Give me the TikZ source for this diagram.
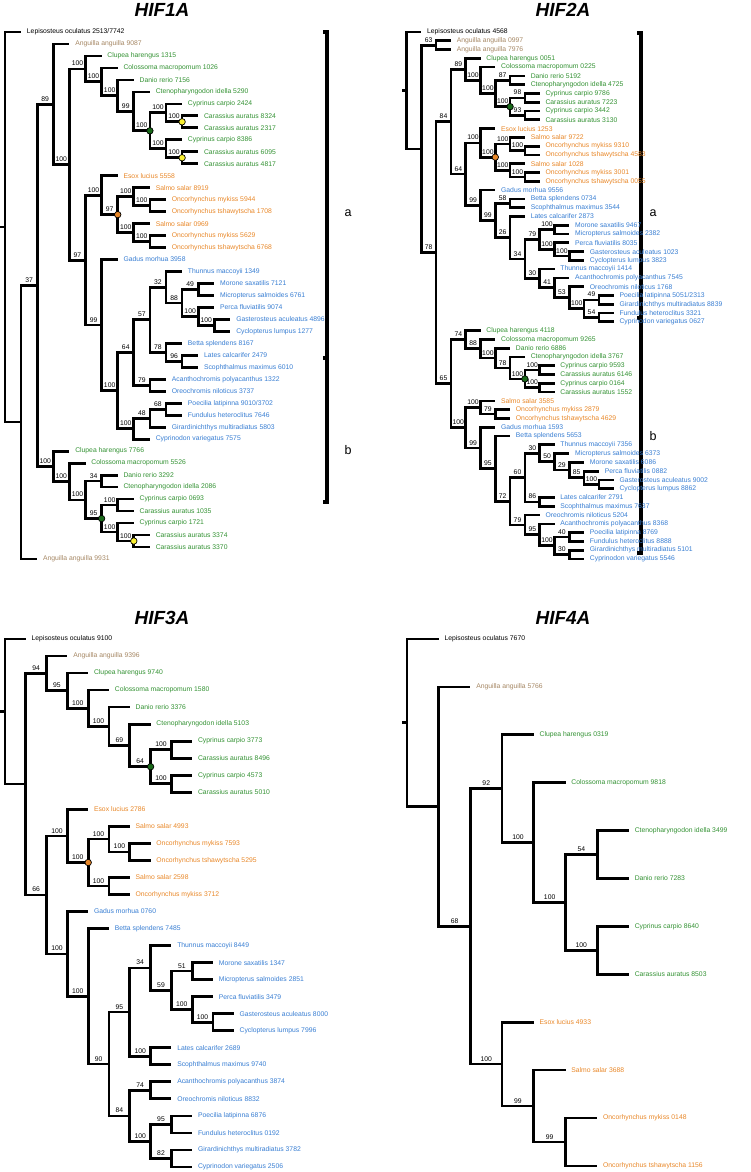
\documentclass[tikz,border=0pt]{standalone}
\usepackage{fontspec}
\setmainfont{Liberation Sans}
\definecolor{cypgreen}{RGB}{50,145,50}
\definecolor{salorange}{RGB}{232,135,40}
\definecolor{acnblue}{RGB}{55,125,210}
\definecolor{eeltan}{RGB}{165,135,100}
\definecolor{dotgreen}{RGB}{25,105,25}
\definecolor{dotyellow}{RGB}{250,240,50}
\begin{document}
\begin{tikzpicture}[
    x=1pt, y=1pt,
    line width=2.7pt,
    leaf/.style = {anchor=west, inner xsep=4.5pt, inner ysep=0pt, font=\fontsize{6.8}{8}\selectfont},
    gar/.style = {text=black},
    eel/.style = {text=eeltan},
    cyp/.style = {text=cypgreen},
    sal/.style = {text=salorange},
    acn/.style = {text=acnblue},
    bs/.style = {pos=0.75, above=1pt, inner sep=0.5pt, font=\fontsize{6.8}{8}\selectfont},
    dot/.style = {circle, draw=black, line width=0.7pt, inner sep=0pt, minimum size=6.5pt},
    gdot/.style = {dot, fill=dotgreen},
    odot/.style = {dot, fill=salorange},
    ydot/.style = {dot, fill=dotyellow},
    ttl/.style = {font=\fontsize{19}{22}\selectfont\bfseries\itshape},
    grp/.style = {font=\fontsize{12.5}{14}\selectfont},
    brk/.style = {line width=3.2pt}
  ]
\useasboundingbox (0,0) rectangle (751,-1172);

% titles
\node[ttl] (t1) at (162,-10) {HIF1A};
\node[ttl] (t2) at (563,-10) {HIF2A};
\node[ttl] (t3) at (162,-618) {HIF3A};
\node[ttl] (t4) at (563,-618) {HIF4A};

% group brackets
\draw[brk] (323,-32) -- (327,-32) -- (327,-502) -- (323,-502);
\draw[brk] (327,-358) -- (323,-358);
\node[grp] (ga1) at (348,-213) {a};
\node[grp] (gb1) at (348,-450) {b};
\draw[brk] (637,-33) -- (641,-33) -- (641,-553) -- (637,-553);
\draw[brk] (641,-318) -- (637,-318);
\node[grp] (ga2) at (653,-213) {a};
\node[grp] (gb2) at (653,-436) {b};

% ---------------- HIF1A ----------------
\begin{scope}[shift={(5pt,-32pt)}, x=16.1pt, y=-11.977pt]
\coordinate (aR) at (0,16.287);
\coordinate (aA) at (1,32.574);
\coordinate (aB) at (2,21.149);
\coordinate (aC) at (3,6.032);
\coordinate (aD) at (3,36.266);
\coordinate (aE) at (4,11.064);
\coordinate (aF) at (5,3.078);
\coordinate (aG) at (5,19.049);
\coordinate (aF2) at (6,4.156);
\coordinate (aF3) at (7,5.313);
\coordinate (aF4) at (8,6.625);
\coordinate (aF5) at (9,8.25);
\coordinate (aF6) at (10,6.75);
\coordinate (aF7) at (10,9.75);
\coordinate (aF6a) at (11,7.5);
\coordinate (aF7a) at (11,10.5);
\coordinate (aH) at (6,13.625);
\coordinate (aI) at (6,24.473);
\coordinate (aH2) at (7,15.25);
\coordinate (aH3) at (8,13.75);
\coordinate (aH4) at (8,16.75);
\coordinate (aH3a) at (9,14.5);
\coordinate (aH4a) at (9,17.5);
\coordinate (aJ) at (7,29.945);
\coordinate (aK) at (8,26.766);
\coordinate (aL) at (8,33.125);
\coordinate (aK1) at (9,24.031);
\coordinate (aK2) at (9,29.5);
\coordinate (aK1a) at (10,21.313);
\coordinate (aK1b) at (10,26.75);
\coordinate (aK1a2) at (11,22.625);
\coordinate (aK1a3) at (12,21.5);
\coordinate (aK1a4) at (12,23.75);
\coordinate (aK1a5) at (13,24.5);
\coordinate (aK1b2) at (11,27.5);
\coordinate (aL1) at (9,32.25);
\coordinate (aL1a) at (10,31.5);
\coordinate (aD2) at (4,37.531);
\coordinate (aD3) at (5,39.063);
\coordinate (aD4) at (6,37.5);
\coordinate (aD5) at (6,40.625);
\coordinate (aD6) at (7,39.5);
\coordinate (aD7) at (7,41.75);
\coordinate (aD8) at (8,42.5);

\node[leaf,gar] (a0) at (1,0) {Lepisosteus oculatus 2513/7742};
\node[leaf,eel] (a1) at (4,1) {Anguilla anguilla 9087};
\node[leaf,cyp] (a2) at (6,2) {Clupea harengus 1315};
\node[leaf,cyp] (a3) at (7,3) {Colossoma macropomum 1026};
\node[leaf,cyp] (a4) at (8,4) {Danio rerio 7156};
\node[leaf,cyp] (a5) at (9,5) {Ctenopharyngodon idella 5290};
\node[leaf,cyp] (a6) at (11,6) {Cyprinus carpio 2424};
\node[leaf,cyp] (a7) at (12,7) {Carassius auratus 8324};
\node[leaf,cyp] (a8) at (12,8) {Carassius auratus 2317};
\node[leaf,cyp] (a9) at (11,9) {Cyprinus carpio 8386};
\node[leaf,cyp] (a10) at (12,10) {Carassius auratus 6095};
\node[leaf,cyp] (a11) at (12,11) {Carassius auratus 4817};
\node[leaf,sal] (a12) at (7,12) {Esox lucius 5558};
\node[leaf,sal] (a13) at (9,13) {Salmo salar 8919};
\node[leaf,sal] (a14) at (10,14) {Oncorhynchus mykiss 5944};
\node[leaf,sal] (a15) at (10,15) {Oncorhynchus tshawytscha 1708};
\node[leaf,sal] (a16) at (9,16) {Salmo salar 0969};
\node[leaf,sal] (a17) at (10,17) {Oncorhynchus mykiss 5629};
\node[leaf,sal] (a18) at (10,18) {Oncorhynchus tshawytscha 6768};
\node[leaf,acn] (a19) at (7,19) {Gadus morhua 3958};
\node[leaf,acn] (a20) at (11,20) {Thunnus maccoyii 1349};
\node[leaf,acn] (a21) at (13,21) {Morone saxatilis 7121};
\node[leaf,acn] (a22) at (13,22) {Micropterus salmoides 6761};
\node[leaf,acn] (a23) at (13,23) {Perca fluviatilis 9074};
\node[leaf,acn] (a24) at (14,24) {Gasterosteus aculeatus 4896};
\node[leaf,acn] (a25) at (14,25) {Cyclopterus lumpus 1277};
\node[leaf,acn] (a26) at (11,26) {Betta splendens 8167};
\node[leaf,acn] (a27) at (12,27) {Lates calcarifer 2479};
\node[leaf,acn] (a28) at (12,28) {Scophthalmus maximus 6010};
\node[leaf,acn] (a29) at (10,29) {Acanthochromis polyacanthus 1322};
\node[leaf,acn] (a30) at (10,30) {Oreochromis niloticus 3737};
\node[leaf,acn] (a31) at (11,31) {Poecilia latipinna 9010/3702};
\node[leaf,acn] (a32) at (11,32) {Fundulus heteroclitus 7646};
\node[leaf,acn] (a33) at (10,33) {Girardinichthys multiradiatus 5803};
\node[leaf,acn] (a34) at (9,34) {Cyprinodon variegatus 7575};
\node[leaf,cyp] (a35) at (4,35) {Clupea harengus 7766};
\node[leaf,cyp] (a36) at (5,36) {Colossoma macropomum 5526};
\node[leaf,cyp] (a37) at (7,37) {Danio rerio 3292};
\node[leaf,cyp] (a38) at (7,38) {Ctenopharyngodon idella 2086};
\node[leaf,cyp] (a39) at (8,39) {Cyprinus carpio 0693};
\node[leaf,cyp] (a40) at (8,40) {Carassius auratus 1035};
\node[leaf,cyp] (a41) at (8,41) {Cyprinus carpio 1721};
\node[leaf,cyp] (a42) at (9,42) {Carassius auratus 3374};
\node[leaf,cyp] (a43) at (9,43) {Carassius auratus 3370};
\node[leaf,eel] (a44) at (2,44) {Anguilla anguilla 9931};

\draw (aR) -- +(-5pt,0pt);
\draw (aR) |- (a0) (aR) |- (aA);
\draw (aA) |- (aB) node[bs]{37} (aA) |- (a44);
\draw (aB) |- (aC) node[bs]{89} (aB) |- (aD) node[bs]{100};
\draw (aC) |- (a1) (aC) |- (aE) node[bs]{100};
\draw (aE) |- (aF) node[bs]{100} (aE) |- (aG) node[bs]{97};
\draw (aF) |- (a2) (aF) |- (aF2) node[bs]{100};
\draw (aF2) |- (a3) (aF2) |- (aF3) node[bs]{100};
\draw (aF3) |- (a4) (aF3) |- (aF4) node[bs]{99};
\draw (aF4) |- (a5) (aF4) |- (aF5) node[bs]{100};
\draw (aF5) |- (aF6) node[bs]{100} (aF5) |- (aF7) node[bs]{100};
\draw (aF6) |- (a6) (aF6) |- (aF6a) node[bs]{100};
\draw (aF6a) |- (a7) (aF6a) |- (a8);
\draw (aF7) |- (a9) (aF7) |- (aF7a) node[bs]{100};
\draw (aF7a) |- (a10) (aF7a) |- (a11);
\draw (aG) |- (aH) node[bs]{100} (aG) |- (aI) node[bs]{99};
\draw (aH) |- (a12) (aH) |- (aH2) node[bs]{97};
\draw (aH2) |- (aH3) node[bs]{100} (aH2) |- (aH4) node[bs]{100};
\draw (aH3) |- (a13) (aH3) |- (aH3a) node[bs]{100};
\draw (aH3a) |- (a14) (aH3a) |- (a15);
\draw (aH4) |- (a16) (aH4) |- (aH4a) node[bs]{100};
\draw (aH4a) |- (a17) (aH4a) |- (a18);
\draw (aI) |- (a19) (aI) |- (aJ) node[bs]{100};
\draw (aJ) |- (aK) node[bs]{64} (aJ) |- (aL) node[bs]{100};
\draw (aK) |- (aK1) node[bs]{57} (aK) |- (aK2) node[bs]{79};
\draw (aK1) |- (aK1a) node[bs]{32} (aK1) |- (aK1b) node[bs]{78};
\draw (aK1a) |- (a20) (aK1a) |- (aK1a2) node[bs]{88};
\draw (aK1a2) |- (aK1a3) node[bs]{49} (aK1a2) |- (aK1a4) node[bs]{100};
\draw (aK1a3) |- (a21) (aK1a3) |- (a22);
\draw (aK1a4) |- (a23) (aK1a4) |- (aK1a5) node[bs]{100};
\draw (aK1a5) |- (a24) (aK1a5) |- (a25);
\draw (aK1b) |- (a26) (aK1b) |- (aK1b2) node[bs]{96};
\draw (aK1b2) |- (a27) (aK1b2) |- (a28);
\draw (aK2) |- (a29) (aK2) |- (a30);
\draw (aL) |- (aL1) node[bs]{48} (aL) |- (a34);
\draw (aL1) |- (aL1a) node[bs]{68} (aL1) |- (a33);
\draw (aL1a) |- (a31) (aL1a) |- (a32);
\draw (aD) |- (a35) (aD) |- (aD2) node[bs]{100};
\draw (aD2) |- (a36) (aD2) |- (aD3) node[bs]{100};
\draw (aD3) |- (aD4) node[bs]{34} (aD3) |- (aD5) node[bs]{95};
\draw (aD4) |- (a37) (aD4) |- (a38);
\draw (aD5) |- (aD6) node[bs]{100} (aD5) |- (aD7) node[bs]{100};
\draw (aD6) |- (a39) (aD6) |- (a40);
\draw (aD7) |- (a41) (aD7) |- (aD8) node[bs]{100};
\draw (aD8) |- (a42) (aD8) |- (a43);

\node[gdot] (aF5d) at (aF5) {};
\node[gdot] (aD5d) at (aD5) {};
\node[odot] (aH2d) at (aH2) {};
\node[ydot] (aF6d) at (aF6a) {};
\node[ydot] (aF7d) at (aF7a) {};
\node[ydot] (aD8d) at (aD8) {};
\end{scope}

% ---------------- HIF2A ----------------
\begin{scope}[shift={(406.5pt,-32pt)}, x=14.8pt, y=-8.783pt]
\coordinate (bR) at (0,6.657);
\coordinate (bA) at (1,13.314);
\coordinate (bAng) at (2,1.5);
\coordinate (bB) at (2,25.128);
\coordinate (bC) at (3,10.214);
\coordinate (bD) at (3,40.042);
\coordinate (bE) at (4,4.25);
\coordinate (bE2) at (5,5.5);
\coordinate (bE3) at (6,7);
\coordinate (bE4) at (7,5.5);
\coordinate (bG1) at (7,8.5);
\coordinate (bE5) at (8,7.5);
\coordinate (bE6) at (8,9.5);
\coordinate (bN) at (4,16.178);
\coordinate (bF) at (5,12.625);
\coordinate (bO) at (6,14.25);
\coordinate (bOa) at (7,12.75);
\coordinate (bOa2) at (8,13.5);
\coordinate (bOb) at (7,15.75);
\coordinate (bOb2) at (8,16.5);
\coordinate (bH) at (5,19.730);
\coordinate (bH2) at (6,21.461);
\coordinate (bH3) at (7,19.5);
\coordinate (bH4) at (7,23.422);
\coordinate (bH5) at (8,25.844);
\coordinate (bH6) at (9,23.625);
\coordinate (bM) at (10,22.5);
\coordinate (bP) at (10,24.75);
\coordinate (bPa) at (11,25.5);
\coordinate (bH7) at (9,28.063);
\coordinate (bH8) at (10,29.125);
\coordinate (bH9) at (11,30.25);
\coordinate (bQ) at (12,31.5);
\coordinate (bQ1) at (13,30.5);
\coordinate (bQ2) at (13,32.5);
\coordinate (bI) at (4,35.031);
\coordinate (bI2) at (5,36.063);
\coordinate (bI3) at (6,37.125);
\coordinate (bI4) at (7,38.25);
\coordinate (bG2) at (8,39.5);
\coordinate (bC1) at (9,38.5);
\coordinate (bC2) at (9,40.5);
\coordinate (bJ) at (4,45.054);
\coordinate (bJ1) at (5,42.75);
\coordinate (bJ2) at (6,43.5);
\coordinate (bK) at (5,47.357);
\coordinate (bK2) at (6,49.715);
\coordinate (bK3) at (7,53.430);
\coordinate (bK4) at (8,50.734);
\coordinate (bK5) at (9,47.969);
\coordinate (bK6) at (10,48.938);
\coordinate (bK7) at (11,49.875);
\coordinate (bK8) at (12,50.75);
\coordinate (bK9) at (13,51.5);
\coordinate (bK10) at (9,53.5);
\coordinate (bL) at (8,56.125);
\coordinate (bL2) at (9,57.25);
\coordinate (bL3) at (10,58.5);
\coordinate (bL4) at (11,57.5);
\coordinate (bL5) at (11,59.5);

\node[leaf,gar] (b0) at (1,0) {Lepisosteus oculatus 4568};
\node[leaf,eel] (b1) at (3,1) {Anguilla anguilla 0997};
\node[leaf,eel] (b2) at (3,2) {Anguilla anguilla 7976};
\node[leaf,cyp] (b3) at (5,3) {Clupea harengus 0051};
\node[leaf,cyp] (b4) at (6,4) {Colossoma macropomum 0225};
\node[leaf,cyp] (b5) at (8,5) {Danio rerio 5192};
\node[leaf,cyp] (b6) at (8,6) {Ctenopharyngodon idella 4725};
\node[leaf,cyp] (b7) at (9,7) {Cyprinus carpio 9786};
\node[leaf,cyp] (b8) at (9,8) {Carassius auratus 7223};
\node[leaf,cyp] (b9) at (9,9) {Cyprinus carpio 3442};
\node[leaf,cyp] (b10) at (9,10) {Carassius auratus 3130};
\node[leaf,sal] (b11) at (6,11) {Esox lucius 1253};
\node[leaf,sal] (b12) at (8,12) {Salmo salar 9722};
\node[leaf,sal] (b13) at (9,13) {Oncorhynchus mykiss 9310};
\node[leaf,sal] (b14) at (9,14) {Oncorhynchus tshawytscha 4583};
\node[leaf,sal] (b15) at (8,15) {Salmo salar 1028};
\node[leaf,sal] (b16) at (9,16) {Oncorhynchus mykiss 3001};
\node[leaf,sal] (b17) at (9,17) {Oncorhynchus tshawytscha 0055};
\node[leaf,acn] (b18) at (6,18) {Gadus morhua 9556};
\node[leaf,acn] (b19) at (8,19) {Betta splendens 0734};
\node[leaf,acn] (b20) at (8,20) {Scophthalmus maximus 3544};
\node[leaf,acn] (b21) at (8,21) {Lates calcarifer 2873};
\node[leaf,acn] (b22) at (11,22) {Morone saxatilis 9467};
\node[leaf,acn] (b23) at (11,23) {Micropterus salmoides 2382};
\node[leaf,acn] (b24) at (11,24) {Perca fluviatilis 8035};
\node[leaf,acn] (b25) at (12,25) {Gasterosteus aculeatus 1023};
\node[leaf,acn] (b26) at (12,26) {Cyclopterus lumpus 3823};
\node[leaf,acn] (b27) at (10,27) {Thunnus maccoyii 1414};
\node[leaf,acn] (b28) at (11,28) {Acanthochromis polyacanthus 7545};
\node[leaf,acn] (b29) at (12,29) {Oreochromis niloticus 1768};
\node[leaf,acn] (b30) at (14,30) {Poecilia latipinna 5051/2313};
\node[leaf,acn] (b31) at (14,31) {Girardinichthys multiradiatus 8839};
\node[leaf,acn] (b32) at (14,32) {Fundulus heteroclitus 3321};
\node[leaf,acn] (b33) at (14,33) {Cyprinodon variegatus 0627};
\node[leaf,cyp] (b34) at (5,34) {Clupea harengus 4118};
\node[leaf,cyp] (b35) at (6,35) {Colossoma macropomum 9265};
\node[leaf,cyp] (b36) at (7,36) {Danio rerio 6886};
\node[leaf,cyp] (b37) at (8,37) {Ctenopharyngodon idella 3767};
\node[leaf,cyp] (b38) at (10,38) {Cyprinus carpio 9593};
\node[leaf,cyp] (b39) at (10,39) {Carassius auratus 6146};
\node[leaf,cyp] (b40) at (10,40) {Cyprinus carpio 0164};
\node[leaf,cyp] (b41) at (10,41) {Carassius auratus 1552};
\node[leaf,sal] (b42) at (6,42) {Salmo salar 3585};
\node[leaf,sal] (b43) at (7,43) {Oncorhynchus mykiss 2879};
\node[leaf,sal] (b44) at (7,44) {Oncorhynchus tshawytscha 4629};
\node[leaf,acn] (b45) at (6,45) {Gadus morhua 1593};
\node[leaf,acn] (b46) at (7,46) {Betta splendens 5653};
\node[leaf,acn] (b47) at (10,47) {Thunnus maccoyii 7356};
\node[leaf,acn] (b48) at (11,48) {Micropterus salmoides 6373};
\node[leaf,acn] (b49) at (12,49) {Morone saxatilis 6086};
\node[leaf,acn] (b50) at (13,50) {Perca fluviatilis 0882};
\node[leaf,acn] (b51) at (14,51) {Gasterosteus aculeatus 9002};
\node[leaf,acn] (b52) at (14,52) {Cyclopterus lumpus 8862};
\node[leaf,acn] (b53) at (10,53) {Lates calcarifer 2791};
\node[leaf,acn] (b54) at (10,54) {Scophthalmus maximus 7637};
\node[leaf,acn] (b55) at (9,55) {Oreochromis niloticus 5204};
\node[leaf,acn] (b56) at (10,56) {Acanthochromis polyacanthus 8368};
\node[leaf,acn] (b57) at (12,57) {Poecilia latipinna 8769};
\node[leaf,acn] (b58) at (12,58) {Fundulus heteroclitus 8888};
\node[leaf,acn] (b59) at (12,59) {Girardinichthys multiradiatus 5101};
\node[leaf,acn] (b60) at (12,60) {Cyprinodon variegatus 5546};

\draw (bR) -- +(-5pt,0pt);
\draw (bR) |- (b0) (bR) |- (bA);
\draw (bA) |- (bAng) node[bs]{63} (bA) |- (bB) node[bs]{78};
\draw (bAng) |- (b1) (bAng) |- (b2);
\draw (bB) |- (bC) node[bs]{84} (bB) |- (bD) node[bs]{65};
\draw (bC) |- (bE) node[bs]{89} (bC) |- (bN) node[bs]{64};
\draw (bE) |- (b3) (bE) |- (bE2) node[bs]{100};
\draw (bE2) |- (b4) (bE2) |- (bE3) node[bs]{100};
\draw (bE3) |- (bE4) node[bs]{87} (bE3) |- (bG1) node[bs]{100};
\draw (bE4) |- (b5) (bE4) |- (b6);
\draw (bG1) |- (bE5) node[bs]{98} (bG1) |- (bE6) node[bs]{93};
\draw (bE5) |- (b7) (bE5) |- (b8);
\draw (bE6) |- (b9) (bE6) |- (b10);
\draw (bN) |- (bF) node[bs]{100} (bN) |- (bH) node[bs]{99};
\draw (bF) |- (b11) (bF) |- (bO) node[bs]{100};
\draw (bO) |- (bOa) node[bs]{100} (bO) |- (bOb) node[bs]{100};
\draw (bOa) |- (b12) (bOa) |- (bOa2) node[bs]{100};
\draw (bOa2) |- (b13) (bOa2) |- (b14);
\draw (bOb) |- (b15) (bOb) |- (bOb2) node[bs]{100};
\draw (bOb2) |- (b16) (bOb2) |- (b17);
\draw (bH) |- (b18) (bH) |- (bH2) node[bs]{99};
\draw (bH2) |- (bH3) node[bs]{58} (bH2) |- (bH4) node[bs]{26};
\draw (bH3) |- (b19) (bH3) |- (b20);
\draw (bH4) |- (b21) (bH4) |- (bH5) node[bs]{34};
\draw (bH5) |- (bH6) node[bs]{79} (bH5) |- (bH7) node[bs]{30};
\draw (bH6) |- (bM) node[bs]{100} (bH6) |- (bP) node[bs]{100};
\draw (bM) |- (b22) (bM) |- (b23);
\draw (bP) |- (b24) (bP) |- (bPa) node[bs]{100};
\draw (bPa) |- (b25) (bPa) |- (b26);
\draw (bH7) |- (b27) (bH7) |- (bH8) node[bs]{41};
\draw (bH8) |- (b28) (bH8) |- (bH9) node[bs]{53};
\draw (bH9) |- (b29) (bH9) |- (bQ) node[bs]{100};
\draw (bQ) |- (bQ1) node[bs]{49} (bQ) |- (bQ2) node[bs]{54};
\draw (bQ1) |- (b30) (bQ1) |- (b31);
\draw (bQ2) |- (b32) (bQ2) |- (b33);
\draw (bD) |- (bI) node[bs]{74} (bD) |- (bJ) node[bs]{100};
\draw (bI) |- (b34) (bI) |- (bI2) node[bs]{88};
\draw (bI2) |- (b35) (bI2) |- (bI3) node[bs]{100};
\draw (bI3) |- (b36) (bI3) |- (bI4) node[bs]{78};
\draw (bI4) |- (b37) (bI4) |- (bG2) node[bs]{100};
\draw (bG2) |- (bC1) node[bs]{100} (bG2) |- (bC2) node[bs]{100};
\draw (bC1) |- (b38) (bC1) |- (b39);
\draw (bC2) |- (b40) (bC2) |- (b41);
\draw (bJ) |- (bJ1) node[bs]{100} (bJ) |- (bK) node[bs]{99};
\draw (bJ1) |- (b42) (bJ1) |- (bJ2) node[bs]{79};
\draw (bJ2) |- (b43) (bJ2) |- (b44);
\draw (bK) |- (b45) (bK) |- (bK2) node[bs]{95};
\draw (bK2) |- (b46) (bK2) |- (bK3) node[bs]{72};
\draw (bK3) |- (bK4) node[bs]{60} (bK3) |- (bL) node[bs]{79};
\draw (bK4) |- (bK5) node[bs]{30} (bK4) |- (bK10) node[bs]{86};
\draw (bK5) |- (b47) (bK5) |- (bK6) node[bs]{50};
\draw (bK6) |- (b48) (bK6) |- (bK7) node[bs]{29};
\draw (bK7) |- (b49) (bK7) |- (bK8) node[bs]{85};
\draw (bK8) |- (b50) (bK8) |- (bK9) node[bs]{100};
\draw (bK9) |- (b51) (bK9) |- (b52);
\draw (bK10) |- (b53) (bK10) |- (b54);
\draw (bL) |- (b55) (bL) |- (bL2) node[bs]{95};
\draw (bL2) |- (b56) (bL2) |- (bL3) node[bs]{100};
\draw (bL3) |- (bL4) node[bs]{40} (bL3) |- (bL5) node[bs]{30};
\draw (bL4) |- (b57) (bL4) |- (b58);
\draw (bL5) |- (b59) (bL5) |- (b60);

\node[gdot] (bG1d) at (bG1) {};
\node[gdot] (bG2d) at (bG2) {};
\node[odot] (bOd) at (bO) {};
\end{scope}

% ---------------- HIF3A ----------------
\begin{scope}[shift={(5pt,-639pt)}, x=20.8pt, y=-17.03pt]
\coordinate (cR) at (0,4.260);
\coordinate (cA) at (1,8.521);
\coordinate (cB) at (2,2.016);
\coordinate (cC) at (2,15.025);
\coordinate (cD) at (3,3.031);
\coordinate (cE) at (4,4.063);
\coordinate (cF) at (5,5.125);
\coordinate (cG) at (6,6.25);
\coordinate (cH) at (7,7.5);
\coordinate (cH1) at (8,6.5);
\coordinate (cH2) at (8,8.5);
\coordinate (cI) at (3,11.563);
\coordinate (cO) at (4,13.125);
\coordinate (cO1) at (5,11.75);
\coordinate (cO2) at (6,12.5);
\coordinate (cO3) at (5,14.5);
\coordinate (cJ) at (3,18.488);
\coordinate (cK) at (4,20.977);
\coordinate (cL) at (5,24.953);
\coordinate (cM) at (6,21.906);
\coordinate (cM1) at (7,19.313);
\coordinate (cM2) at (8,20.625);
\coordinate (cM3) at (9,19.5);
\coordinate (cM4) at (9,21.75);
\coordinate (cM5) at (10,22.5);
\coordinate (cM6) at (7,24.5);
\coordinate (cN) at (6,28);
\coordinate (cN1) at (7,26.5);
\coordinate (cN2) at (7,29.5);
\coordinate (cN3) at (8,28.5);
\coordinate (cN4) at (8,30.5);

\node[leaf,gar] (c0) at (1,0) {Lepisosteus oculatus 9100};
\node[leaf,eel] (c1) at (3,1) {Anguilla anguilla 9396};
\node[leaf,cyp] (c2) at (4,2) {Clupea harengus 9740};
\node[leaf,cyp] (c3) at (5,3) {Colossoma macropomum 1580};
\node[leaf,cyp] (c4) at (6,4) {Danio rerio 3376};
\node[leaf,cyp] (c5) at (7,5) {Ctenopharyngodon idella 5103};
\node[leaf,cyp] (c6) at (9,6) {Cyprinus carpio 3773};
\node[leaf,cyp] (c7) at (9,7) {Carassius auratus 8496};
\node[leaf,cyp] (c8) at (9,8) {Cyprinus carpio 4573};
\node[leaf,cyp] (c9) at (9,9) {Carassius auratus 5010};
\node[leaf,sal] (c10) at (4,10) {Esox lucius 2786};
\node[leaf,sal] (c11) at (6,11) {Salmo salar 4993};
\node[leaf,sal] (c12) at (7,12) {Oncorhynchus mykiss 7593};
\node[leaf,sal] (c13) at (7,13) {Oncorhynchus tshawytscha 5295};
\node[leaf,sal] (c14) at (6,14) {Salmo salar 2598};
\node[leaf,sal] (c15) at (6,15) {Oncorhynchus mykiss 3712};
\node[leaf,acn] (c16) at (4,16) {Gadus morhua 0760};
\node[leaf,acn] (c17) at (5,17) {Betta splendens 7485};
\node[leaf,acn] (c18) at (8,18) {Thunnus maccoyii 8449};
\node[leaf,acn] (c19) at (10,19) {Morone saxatilis 1347};
\node[leaf,acn] (c20) at (10,20) {Micropterus salmoides 2851};
\node[leaf,acn] (c21) at (10,21) {Perca fluviatilis 3479};
\node[leaf,acn] (c22) at (11,22) {Gasterosteus aculeatus 8000};
\node[leaf,acn] (c23) at (11,23) {Cyclopterus lumpus 7996};
\node[leaf,acn] (c24) at (8,24) {Lates calcarifer 2689};
\node[leaf,acn] (c25) at (8,25) {Scophthalmus maximus 9740};
\node[leaf,acn] (c26) at (8,26) {Acanthochromis polyacanthus 3874};
\node[leaf,acn] (c27) at (8,27) {Oreochromis niloticus 8832};
\node[leaf,acn] (c28) at (9,28) {Poecilia latipinna 6876};
\node[leaf,acn] (c29) at (9,29) {Fundulus heteroclitus 0192};
\node[leaf,acn] (c30) at (9,30) {Girardinichthys multiradiatus 3782};
\node[leaf,acn] (c31) at (9,31) {Cyprinodon variegatus 2506};

\draw (cR) -- +(-5pt,0pt);
\draw (cR) |- (c0) (cR) |- (cA);
\draw (cA) |- (cB) node[bs]{94} (cA) |- (cC) node[bs]{66};
\draw (cB) |- (c1) (cB) |- (cD) node[bs]{95};
\draw (cD) |- (c2) (cD) |- (cE) node[bs]{100};
\draw (cE) |- (c3) (cE) |- (cF) node[bs]{100};
\draw (cF) |- (c4) (cF) |- (cG) node[bs]{69};
\draw (cG) |- (c5) (cG) |- (cH) node[bs]{64};
\draw (cH) |- (cH1) node[bs]{100} (cH) |- (cH2) node[bs]{100};
\draw (cH1) |- (c6) (cH1) |- (c7);
\draw (cH2) |- (c8) (cH2) |- (c9);
\draw (cC) |- (cI) node[bs]{100} (cC) |- (cJ) node[bs]{100};
\draw (cI) |- (c10) (cI) |- (cO) node[bs]{100};
\draw (cO) |- (cO1) node[bs]{100} (cO) |- (cO3) node[bs]{100};
\draw (cO1) |- (c11) (cO1) |- (cO2) node[bs]{100};
\draw (cO2) |- (c12) (cO2) |- (c13);
\draw (cO3) |- (c14) (cO3) |- (c15);
\draw (cJ) |- (c16) (cJ) |- (cK) node[bs]{100};
\draw (cK) |- (c17) (cK) |- (cL) node[bs]{90};
\draw (cL) |- (cM) node[bs]{95} (cL) |- (cN) node[bs]{84};
\draw (cM) |- (cM1) node[bs]{34} (cM) |- (cM6) node[bs]{100};
\draw (cM1) |- (c18) (cM1) |- (cM2) node[bs]{59};
\draw (cM2) |- (cM3) node[bs]{51} (cM2) |- (cM4) node[bs]{100};
\draw (cM3) |- (c19) (cM3) |- (c20);
\draw (cM4) |- (c21) (cM4) |- (cM5) node[bs]{100};
\draw (cM5) |- (c22) (cM5) |- (c23);
\draw (cM6) |- (c24) (cM6) |- (c25);
\draw (cN) |- (cN1) node[bs]{74} (cN) |- (cN2) node[bs]{100};
\draw (cN1) |- (c26) (cN1) |- (c27);
\draw (cN2) |- (cN3) node[bs]{95} (cN2) |- (cN4) node[bs]{82};
\draw (cN3) |- (c28) (cN3) |- (c29);
\draw (cN4) |- (c30) (cN4) |- (c31);

\node[gdot] (cHd) at (cH) {};
\node[odot] (cOd) at (cO) {};
\end{scope}

% ---------------- HIF4A ----------------
\begin{scope}[shift={(407pt,-639pt)}, x=31.7pt, y=-47.9pt]
\coordinate (dR) at (0,1.75);
\coordinate (dA) at (1,3.5);
\coordinate (dB) at (2,6);
\coordinate (dC) at (3,3.125);
\coordinate (dD) at (4,4.25);
\coordinate (dE) at (5,5.5);
\coordinate (dE1) at (6,4.5);
\coordinate (dE2) at (6,6.5);
\coordinate (dF) at (3,8.875);
\coordinate (dG) at (4,9.75);
\coordinate (dH) at (5,10.5);

\node[leaf,gar] (d0) at (1,0) {Lepisosteus oculatus 7670};
\node[leaf,eel] (d1) at (2,1) {Anguilla anguilla 5766};
\node[leaf,cyp] (d2) at (4,2) {Clupea harengus 0319};
\node[leaf,cyp] (d3) at (5,3) {Colossoma macropomum 9818};
\node[leaf,cyp] (d4) at (7,4) {Ctenopharyngodon idella 3499};
\node[leaf,cyp] (d5) at (7,5) {Danio rerio 7283};
\node[leaf,cyp] (d6) at (7,6) {Cyprinus carpio 8640};
\node[leaf,cyp] (d7) at (7,7) {Carassius auratus 8503};
\node[leaf,sal] (d8) at (4,8) {Esox lucius 4933};
\node[leaf,sal] (d9) at (5,9) {Salmo salar 3688};
\node[leaf,sal] (d10) at (6,10) {Oncorhynchus mykiss 0148};
\node[leaf,sal] (d11) at (6,11) {Oncorhynchus tshawytscha 1156};

\draw (dR) -- +(-5pt,0pt);
\draw (dR) |- (d0) (dR) |- (dA);
\draw (dA) |- (d1) (dA) |- (dB) node[bs]{68};
\draw (dB) |- (dC) node[bs]{92} (dB) |- (dF) node[bs]{100};
\draw (dC) |- (d2) (dC) |- (dD) node[bs]{100};
\draw (dD) |- (d3) (dD) |- (dE) node[bs]{100};
\draw (dE) |- (dE1) node[bs]{54} (dE) |- (dE2) node[bs]{100};
\draw (dE1) |- (d4) (dE1) |- (d5);
\draw (dE2) |- (d6) (dE2) |- (d7);
\draw (dF) |- (d8) (dF) |- (dG) node[bs]{99};
\draw (dG) |- (d9) (dG) |- (dH) node[bs]{99};
\draw (dH) |- (d10) (dH) |- (d11);
\end{scope}
\end{tikzpicture}
\end{document}
